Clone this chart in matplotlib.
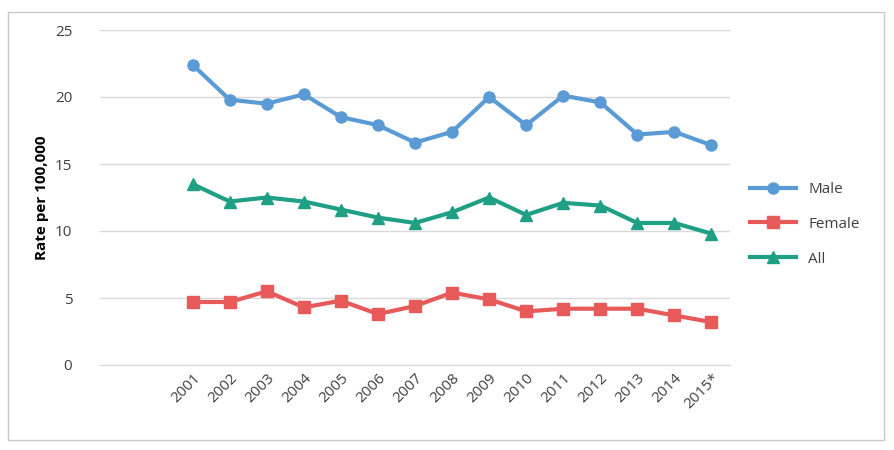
import matplotlib
matplotlib.use("Agg")
import matplotlib.pyplot as plt
from matplotlib.patches import Rectangle

plt.rcParams["font.family"] = "Open Sans"

years = ["2001","2002","2003","2004","2005","2006","2007","2008","2009","2010","2011","2012","2013","2014","2015*"]
male = [22.4,19.8,19.5,20.2,18.5,17.9,16.6,17.4,20.0,17.9,20.1,19.6,17.2,17.4,16.4]
female = [4.7,4.7,5.5,4.3,4.8,3.8,4.4,5.4,4.9,4.0,4.2,4.2,4.2,3.7,3.2]
allp = [13.5,12.2,12.5,12.2,11.6,11.0,10.6,11.4,12.5,11.2,12.1,11.9,10.6,10.6,9.8]
yticks = [0,5,10,15,20,25]

fig = plt.figure(figsize=(8.94,4.5), dpi=100)
fig.patches.append(Rectangle((8/894,10/450),876/894,428/450, transform=fig.transFigure,
                             fill=False, edgecolor="#c8c8c8", lw=1))
ax = fig.add_axes([100/894, 85/450, 630/894, 335/450])
x = list(range(len(years)))
ax.plot(x, male, color="#5B9BD5", lw=3, marker="o", ms=8, label="Male")
ax.plot(x, female, color="#E8595A", lw=3, marker="s", ms=8, label="Female")
ax.plot(x, allp, color="#1FA085", lw=3, marker="^", ms=9, label="All")
ax.set_xlim(-2.5, 14.5)
ax.set_ylim(0, 25)
ax.set_yticks(yticks)
ax.set_xticks(x)
ax.set_xticklabels(years, rotation=45, ha="right", rotation_mode="anchor", fontsize=11, color="#404040")
ax.tick_params(axis="y", labelsize=11, colors="#404040", length=0, pad=20)
ax.tick_params(axis="x", length=0, pad=4)
ax.grid(axis="y", color="#d9d9d9", lw=1)
ax.set_axisbelow(True)
for s in ["top","right","left"]:
    ax.spines[s].set_visible(False)
ax.spines["bottom"].set_color("#d9d9d9")
ax.set_ylabel("Rate per 100,000", fontsize=11, fontweight="bold", color="#000000")
ax.legend(loc="center left", bbox_to_anchor=(1.01, 0.42), frameon=False, fontsize=11,
          handlelength=3, labelspacing=1.3, labelcolor="#404040")
fig.savefig("out.png", dpi=100)
